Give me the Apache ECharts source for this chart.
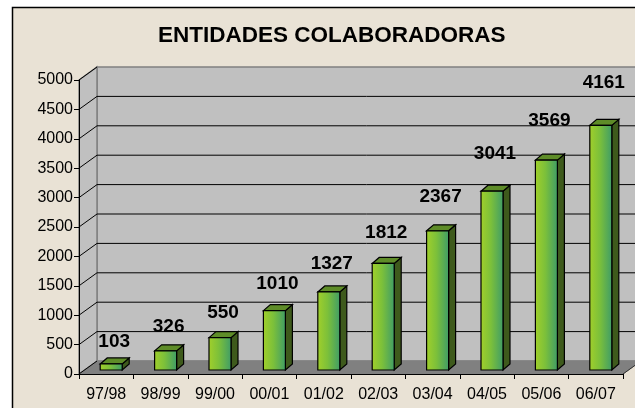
<!DOCTYPE html>
<html>
<head>
<meta charset="utf-8">
<script src="https://cdn.jsdelivr.net/npm/echarts@6/dist/echarts.min.js"></script>
<style>
html,body{margin:0;padding:0;background:#fff;}
#c{width:635px;height:408px;}
</style>
</head>
<body>
<div id="c"></div>
<script>
const titleText = 'ENTIDADES COLABORADORAS';
const categories = ['97/98','98/99','99/00','00/01','01/02','02/03','03/04','04/05','05/06','06/07'];
const values = [103, 326, 550, 1010, 1327, 1812, 2367, 3041, 3569, 4161];
const yMin = 0;
const yMax = 5000;
const yStep = 500;

const FONT = '"Liberation Sans", Arial, sans-serif';
const DX = 18, DY = -13;      // wall depth
const BDX = 7, BDY = -6;      // bar depth
const BW = 22;                // bar width

const chart = echarts.init(document.getElementById('c'), null, {renderer: 'canvas'});

function renderWalls(params, api) {
  const cs = params.coordSys;
  const x0 = cs.x, x1 = cs.x + cs.width;
  const yT = cs.y, yB = cs.y + cs.height;
  const children = [];
  children.push({type: 'polygon', shape: {points: [[x0+DX, yT+DY],[x1+DX+40, yT+DY],[x1+DX+40, yB+DY],[x0+DX, yB+DY]]},
    style: {fill: '#c0c0c0', stroke: '#808080', lineWidth: 1.5}});
  children.push({type: 'polygon', shape: {points: [[x0, yT],[x0+DX, yT+DY],[x0+DX, yB+DY],[x0, yB]]},
    style: {fill: '#c0c0c0', stroke: '#808080', lineWidth: 1.5}});
  children.push({type: 'polygon', shape: {points: [[x0, yB],[x0+DX, yB+DY],[x1+DX, yB+DY],[x1, yB]]},
    style: {fill: '#808080', stroke: '#808080', lineWidth: 1}});
  children.push({type: 'line', shape: {x1: x1, y1: yB, x2: x1+DX, y2: yB+DY}, style: {stroke: '#303030', lineWidth: 1}});
  for (let t = yMin + yStep; t < yMax; t += yStep) {
    const y = api.coord([0, t])[1];
    children.push({type: 'polyline', shape: {points: [[x0, y],[x0+DX, y+DY],[x1+DX+40, y+DY]]},
      style: {stroke: '#000', lineWidth: 1, fill: null}});
  }
  children.push({type: 'line', shape: {x1: x0, y1: yT, x2: x0+DX, y2: yT+DY}, style: {stroke: '#000', lineWidth: 1}});
  children.push({type: 'line', shape: {x1: x0, y1: yB, x2: x0+DX, y2: yB+DY}, style: {stroke: '#000', lineWidth: 1}});
  return {type: 'group', children: children};
}

function renderBar(params, api) {
  const idx = api.value(0);
  const v = api.value(1);
  const p = api.coord([idx, v]);
  const b = api.coord([idx, 0]);
  const cx = p[0] + 5;
  const x = cx - BW / 2;
  const yTop = p[1] - 4;
  const yBot = b[1] - 4;
  const labelOffset = 22 + 0.085 * (yBot - yTop);
  return {
    type: 'group',
    children: [
      {type: 'polygon', shape: {points: [[x+BW, yTop],[x+BW+BDX, yTop+BDY],[x+BW+BDX, yBot+BDY],[x+BW, yBot]]},
        style: {fill: '#3e5a1c', stroke: '#000', lineWidth: 1.2}},
      {type: 'polygon', shape: {points: [[x, yTop],[x+BDX, yTop+BDY],[x+BW+BDX, yTop+BDY],[x+BW, yTop]]},
        style: {fill: '#5e8c28', stroke: '#000', lineWidth: 1.2}},
      {type: 'rect', shape: {x: x, y: yTop, width: BW, height: yBot - yTop},
        style: {fill: new echarts.graphic.LinearGradient(0, 0, 1, 0, [
          {offset: 0, color: '#a2d02a'},
          {offset: 0.45, color: '#7cc03a'},
          {offset: 1, color: '#3e9c68'}
        ]), stroke: '#000', lineWidth: 1.2}},
      {type: 'text', style: {text: String(v), x: cx + 3, y: yTop - labelOffset, align: 'center', verticalAlign: 'middle',
        font: 'bold 19px ' + FONT, fill: '#000'}}
    ]
  };
}

const option = {
  backgroundColor: 'transparent',
  animation: false,
  graphic: [
    {type: 'rect', z: -10, shape: {x: 12.5, y: 7.5, width: 660, height: 440},
      style: {fill: '#e9e2d5', stroke: '#000', lineWidth: 1.5}}
  ],
  title: {
    text: titleText,
    left: 158, top: 24, padding: 0,
    textStyle: {fontFamily: FONT, fontWeight: 'bold', fontSize: 22.5, color: '#000'}
  },
  grid: {left: 79, right: 12, top: 80, bottom: 34, containLabel: false},
  xAxis: {
    type: 'category',
    data: categories,
    boundaryGap: true,
    z: 10,
    axisLine: {show: true, lineStyle: {color: '#000', width: 1}},
    axisTick: {show: true, length: 5, lineStyle: {color: '#000'}},
    axisLabel: {color: '#000', fontFamily: FONT, fontSize: 16, margin: 13, interval: 0},
    splitLine: {show: false}
  },
  yAxis: {
    type: 'value',
    min: yMin, max: yMax, interval: yStep,
    z: 10,
    axisLine: {show: true, lineStyle: {color: '#000', width: 1}},
    axisTick: {show: true, length: 5, lineStyle: {color: '#000'}},
    axisLabel: {color: '#000', fontFamily: FONT, fontSize: 16, margin: 6, formatter: function (v) { return String(v); }},
    splitLine: {show: false}
  },
  series: [
    {type: 'custom', z: 1, clip: false, renderItem: renderWalls, data: [[0, 0]], silent: true},
    {type: 'custom', z: 2, clip: false, renderItem: renderBar,
      encode: {x: 0, y: 1},
      data: values.map((v, i) => [i, v])}
  ]
};
chart.setOption(option);
</script>
</body>
</html>
